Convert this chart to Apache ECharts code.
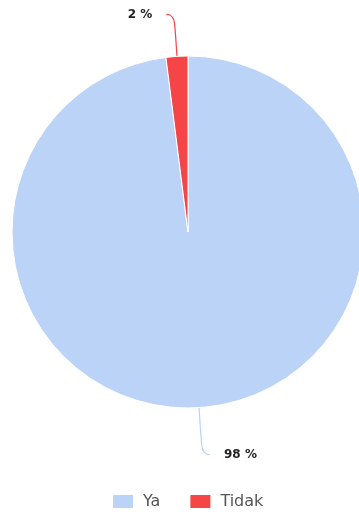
<!DOCTYPE html>
<html>
<head>
<meta charset="utf-8">
<script src="https://cdn.jsdelivr.net/npm/echarts@6/dist/echarts.min.js"></script>
<style>
  html, body { margin: 0; padding: 0; background: #fff; }
  #chart { width: 359px; height: 512px; }
</style>
</head>
<body>
<div id="chart"></div>
<script>
// Answer categories and their shares (percent)
const categories = ['Ya', 'Tidak'];
const values = [98, 2];
const colors = ['#bcd3f8', '#f54546'];
// Leader line lengths per slice
const leaderLengths = [47, 42];

const chart = echarts.init(document.getElementById('chart'));
chart.setOption({
  animation: false,
  color: colors,
  legend: {
    top: 488,
    left: 106,
    itemWidth: 22,
    itemHeight: 15,
    itemGap: 28,
    icon: 'rect',
    textStyle: { color: '#555', fontSize: 16, fontFamily: 'DejaVu Sans, sans-serif', padding: [0, 0, 0, 4] },
    data: categories
  },
  series: [{
    type: 'pie',
    center: [188, 232],
    radius: 176,
    startAngle: 90,
    clockwise: true,
    itemStyle: { borderColor: '#fff', borderWidth: 1 },
    label: {
      show: true,
      formatter: '{c} %',
      color: '#222',
      fontWeight: 'bold',
      fontSize: 12,
      fontFamily: 'DejaVu Sans, sans-serif',
      distanceToLabelLine: 14
    },
    labelLine: { show: true, length2: 8, smooth: 0.6, lineStyle: { width: 1.2 } },
    data: categories.map((name, i) => ({
      name,
      value: values[i],
      labelLine: { length: leaderLengths[i] }
    }))
  }]
});
</script>
</body>
</html>
